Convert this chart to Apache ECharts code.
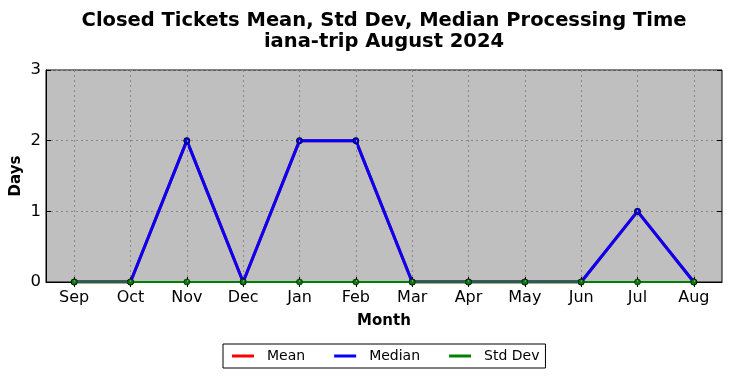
<!DOCTYPE html>
<html><head><meta charset="utf-8">
<script src="https://cdn.jsdelivr.net/npm/echarts@6/dist/echarts.min.js"></script>
<style>html,body{margin:0;padding:0;background:#fff}#c{width:731px;height:378px}</style>
</head><body><div id="c"></div>
<script>
const months = ['Sep','Oct','Nov','Dec','Jan','Feb','Mar','Apr','May','Jun','Jul','Aug'];
const meanVals = [0,0,2,0,2,2,0,0,0,0,1,0];
const medianVals = [0,0,2,0,2,2,0,0,0,0,1,0];
const stdVals = [0,0,0,0,0,0,0,0,0,0,0,0];
const yTicks = [0,1,2,3];

const chart = echarts.init(document.getElementById('c'));
const font = 'DejaVu Sans';
const tick = {show:true, inside:true, length:5, lineStyle:{color:'#000', width:1}};
function series(name, data, color, width, z){
  return {name, type:'line', data, xAxisIndex:0, yAxisIndex:0, z,
    lineStyle:{color, width}, itemStyle:{color, borderColor:'#000', borderWidth:0.6},
    symbol:'circle', symbolSize:6, showSymbol:true, clip:true, animation:false};
}
const s0 = series('Mean', meanVals, '#ff0000', 3, 2);
s0.markLine = {silent:true, symbol:'none', label:{show:false}, animation:false,
  lineStyle:{color:'#888', type:[2,3], width:1},
  data: months.map(m=>({xAxis:m}))};
chart.setOption({
  animation:false,
  textStyle:{fontFamily:font},
  title:{text:'Closed Tickets Mean, Std Dev, Median Processing Time\niana-trip August 2024',
    left:379, top:5, textAlign:'center',
    textStyle:{fontFamily:font, fontSize:19.5, fontWeight:'bold', color:'#000', lineHeight:21}},
  grid:{left:46, right:9, top:70, bottom:96, containLabel:false, outerBoundsMode:'none',
    backgroundColor:'#bfbfbf', show:true, borderColor:'#000', borderWidth:1},
  legend:{bottom:10, left:223, data:['Mean','Median','Std Dev'], icon:'rect', itemWidth:22, itemHeight:3,
    itemGap:29, borderColor:'#000', borderWidth:1, borderRadius:0, padding:[5,6,5,9],
    itemStyle:{borderWidth:0},
    textStyle:{fontFamily:font, fontSize:14, color:'#000', padding:[0,0,0,8]}},
  xAxis:[{type:'category', data:months, boundaryGap:true, name:'Month', nameLocation:'middle', nameGap:32,
    nameMoveOverlap:false,
    nameTextStyle:{fontFamily:font, fontSize:15, fontWeight:'bold', color:'#000'},
    axisLine:{show:true, lineStyle:{color:'#000'}}, axisTick:Object.assign({alignWithLabel:true},tick),
    axisLabel:{fontFamily:font, fontSize:16, color:'#000', margin:8},
    splitLine:{show:false}},
   {type:'category', data:months, position:'top', boundaryGap:true, axisLine:{show:false},
    axisTick:Object.assign({alignWithLabel:true},tick), axisLabel:{show:false}, splitLine:{show:false}}],
  yAxis:[{type:'value', min:0, max:3, interval:1, name:'Days', nameLocation:'middle', nameGap:22,
    nameMoveOverlap:false,
    nameTextStyle:{fontFamily:font, fontSize:15, fontWeight:'bold', color:'#000'},
    axisLine:{show:true, lineStyle:{color:'#000'}}, axisTick:tick,
    axisLabel:{fontFamily:font, fontSize:16.5, color:'#000', margin:5, formatter:v=>yTicks.includes(v)?String(v):''},
    splitLine:{show:true, lineStyle:{color:'#888', type:[2,3], width:1}}},
   {type:'value', min:0, max:3, interval:1, position:'right', axisLine:{show:false}, axisTick:tick,
    axisLabel:{show:false}, splitLine:{show:false}}],
  series:[s0,
          series('Median', medianVals, '#0000ff', 3, 3),
          series('Std Dev', stdVals, '#008000', 2, 4)]
});
</script></body></html>
